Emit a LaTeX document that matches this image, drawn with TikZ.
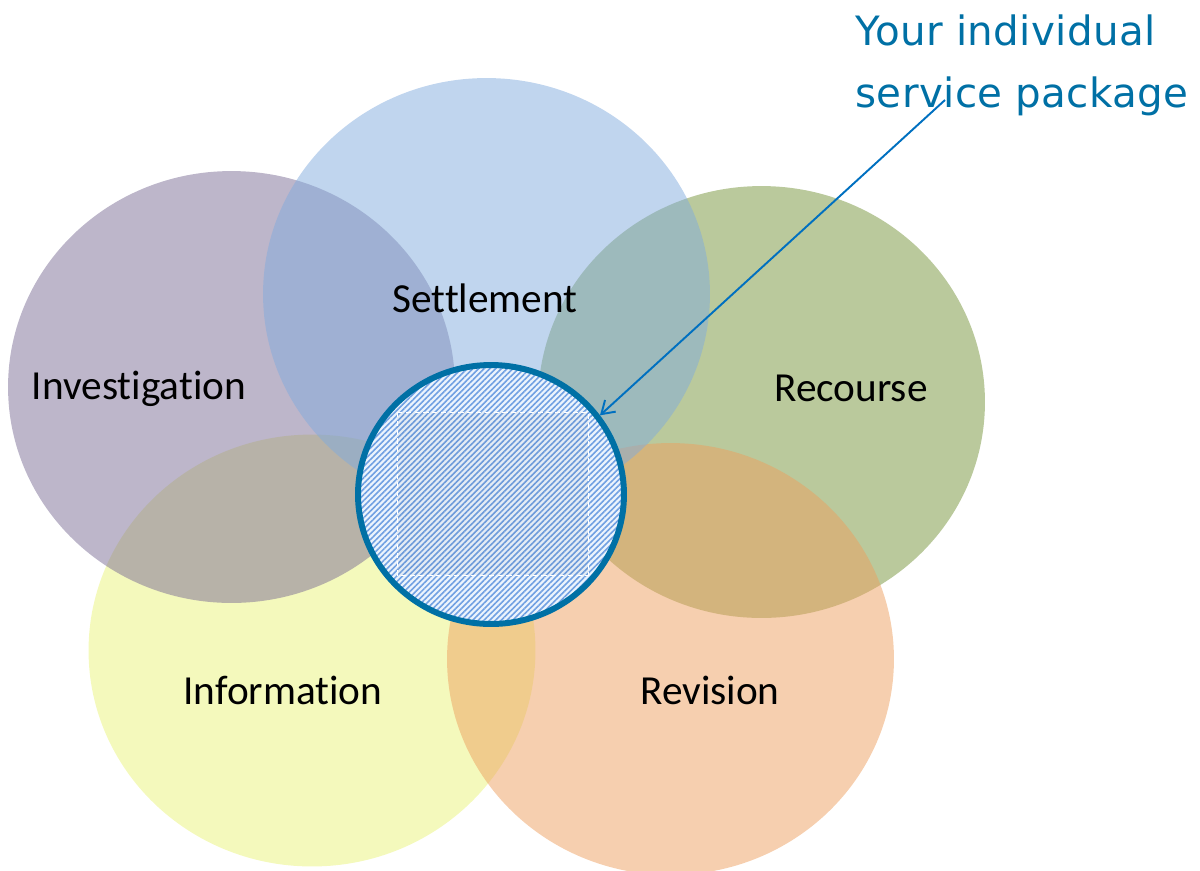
\documentclass[tikz,border=0pt]{standalone}
\usepackage{fontspec}
\setmainfont{Carlito}[Ligatures={NoCommon}]
\newfontfamily\calloutfont{DejaVu Sans}[LetterSpace=1]
\usetikzlibrary{shapes.geometric,patterns.meta,arrows.meta}

\definecolor{settlecol}{RGB}{129,171,221}
\definecolor{investcol}{RGB}{123,109,149}
\definecolor{recoursecol}{RGB}{117,147,57}
\definecolor{informcol}{RGB}{233,243,121}
\definecolor{revisecol}{RGB}{237,159,95}
\definecolor{calloutblue}{RGB}{0,112,165}
\definecolor{arrowblue}{RGB}{0,112,192}
\definecolor{hatchblue}{RGB}{112,160,226}
\definecolor{hatchback}{RGB}{236,244,253}

\tikzset{
  petal/.style={ellipse, minimum width=8.94cm, minimum height=8.64cm, inner sep=0pt, fill opacity=0.5},
  lbl/.style={anchor=base, inner sep=0pt, font=\fontsize{23.5}{28}\selectfont},
  hub/.style={ellipse, minimum width=5.32cm, minimum height=5.18cm, inner sep=0pt,
    preaction={fill=hatchback},
    pattern={Lines[angle=45,distance=2.3pt,line width=0.9pt]}, pattern color=hatchblue,
    draw=calloutblue, line width=3.4pt},
  callout/.style={anchor=north west, inner sep=0pt, align=left, text=calloutblue,
    font=\calloutfont\fontsize{23}{35.7}\selectfont}
}

\begin{document}
\begin{tikzpicture}[x=0.02cm,y=-0.02cm]
    \useasboundingbox (0,0) rectangle (1200,870);

    % the five service areas
    \node[petal, fill=informcol] (inform) at (312,650.5) {};
    \node[petal, fill=investcol] (invest) at (231.5,387) {};
    \node[petal, fill=recoursecol] (recourse) at (761.5,402) {};
    \node[petal, fill=revisecol] (revise) at (670.5,659) {};
    \node[petal, fill=settlecol] (settle) at (486.5,294) {};

    % the package in the middle
    \node[hub] (hub) at (491,494.5) {};
    \draw[white, densely dashed, line width=0.5pt, fill=black, fill opacity=0.03] (397,412) rectangle (588,575);

    \node[lbl] (lsettle) at (485,312) {Settlement};
    \node[lbl] (linvest) at (139,399) {Investigation};
    \node[lbl] (lrecourse) at (851,401) {Recourse};
    \node[lbl] (linform) at (283,704) {Information};
    \node[lbl] (lrevise) at (710,704) {Revision};

    % callout
    \node[callout] (pkg) at (855,14) {Your individual\\service package};
    \coordinate (tail) at (945,100);
    \draw[-{Straight Barb[length=7pt,width=9pt]}, arrowblue, line width=1.1pt] (tail) -- (hub.36);
\end{tikzpicture}
\end{document}
